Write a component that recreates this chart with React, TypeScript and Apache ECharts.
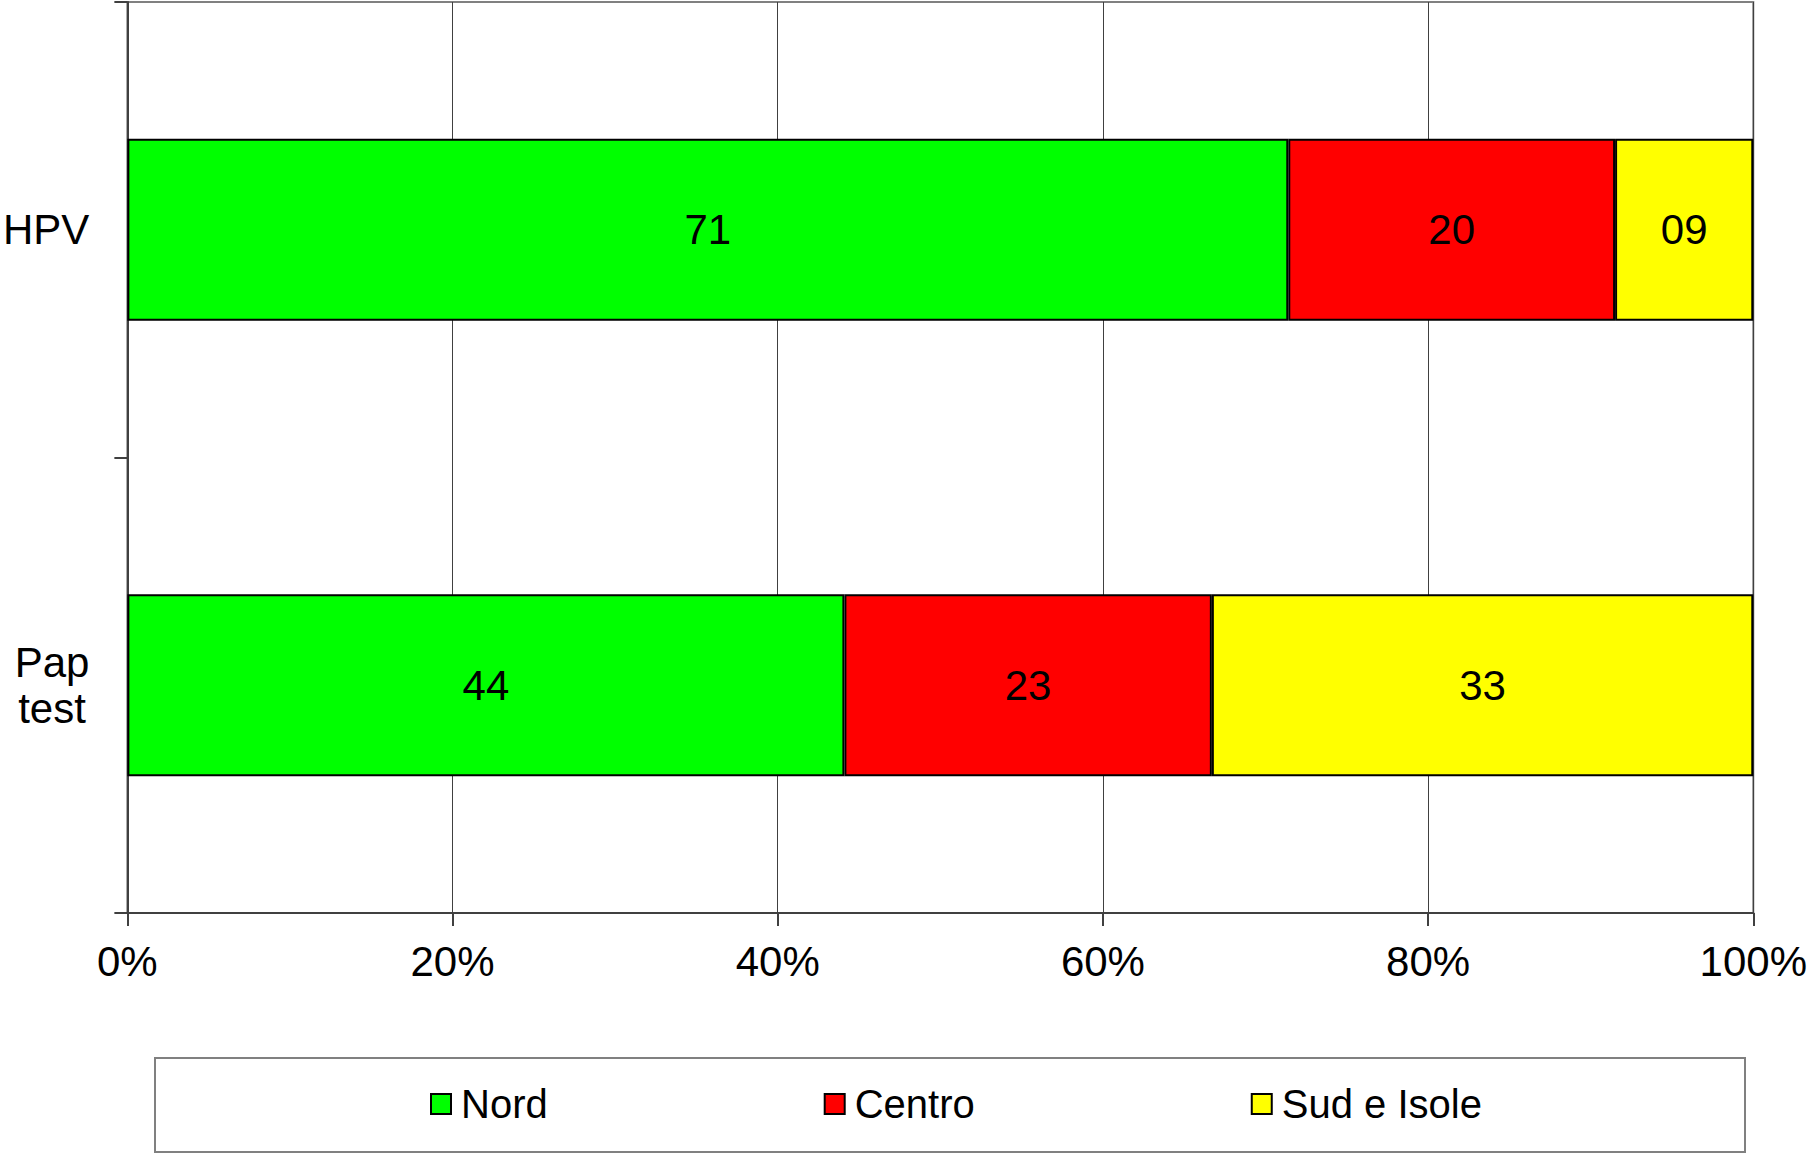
import React, { useEffect, useRef } from "react";
import * as echarts from "echarts";

const categories = ["HPV", "Pap\ntest"];
const seriesNames = ["Nord", "Centro", "Sud e Isole"];
const nordValues = [71.4, 44.1];
const centroValues = [20.1, 22.6];
const sudValues = [8.5, 33.3];
const xTicks = [0, 20, 40, 60, 80, 100];
const colors = ["#00ff00", "#ff0000", "#ffff00"];

const FONT = "Liberation Sans, Arial, sans-serif";

export default function App() {
  const ref = useRef<HTMLDivElement>(null);
  useEffect(() => {
    if (!ref.current) return;
    const chart = echarts.init(ref.current, null, { renderer: "svg" });
    const allValues = [nordValues, centroValues, sudValues];
    const labelFmt = (p: any) => String(Math.round(p.value)).padStart(2, "0");
    chart.setOption({
      animation: false,
      backgroundColor: "#ffffff",
      textStyle: { fontFamily: FONT },
      grid: {
        left: 126,
        right: 56,
        top: 2,
        bottom: 241,
        show: true,
        borderColor: "#808080",
        borderWidth: 2,
        backgroundColor: "transparent",
      },
      xAxis: {
        type: "value",
        min: xTicks[0],
        max: xTicks[xTicks.length - 1],
        interval: xTicks[1] - xTicks[0],
        axisLine: { show: true, lineStyle: { color: "#404040", width: 2 } },
        axisTick: { show: true, length: 13, lineStyle: { color: "#404040", width: 2 } },
        splitLine: { show: true, lineStyle: { color: "#404040", width: 1 } },
        axisLabel: {
          formatter: "{value}%",
          fontSize: 42,
          color: "#000",
          fontFamily: FONT,
          margin: 27,
        },
      },
      yAxis: {
        type: "category",
        data: categories,
        inverse: true,
        axisLine: { show: true, lineStyle: { color: "#404040", width: 2 } },
        axisTick: { show: true, length: 13, lineStyle: { color: "#404040", width: 2 } },
        splitLine: { show: false },
        axisLabel: {
          color: "#000",
          margin: 38,
          align: "right",
          formatter: (v: string) => "{c|" + v.split("\n").join("}\n{c|") + "}",
          rich: {
            c: {
              fontSize: 42,
              fontFamily: FONT,
              color: "#000",
              lineHeight: 46,
              align: "center",
            },
          },
        },
      },
      legend: {
        left: 430,
        top: 1084,
        itemGap: 276,
        itemWidth: 20,
        itemHeight: 20,
        padding: 0,
        icon: "rect",
        data: seriesNames,
        textStyle: { fontSize: 40, color: "#000", fontFamily: FONT, padding: [0, 0, 0, 5] },
      },
      graphic: [
        {
          type: "rect",
          z: -1,
          shape: { x: 155, y: 1058, width: 1590, height: 94 },
          style: { fill: "#ffffff", stroke: "#808080", lineWidth: 2 },
        },
      ],
      series: seriesNames.map((name, i) => ({
        name,
        type: "bar",
        stack: "total",
        barCategoryGap: "60%",
        data: allValues[i],
        itemStyle: { color: colors[i], borderColor: "#000", borderWidth: 2 },
        label: {
          show: true,
          position: "inside",
          formatter: labelFmt,
          fontSize: 42,
          color: "#000",
          fontFamily: FONT,
        },
      })),
    });
    return () => chart.dispose();
  }, []);
  return (
    <div
      ref={ref}
      style={{ position: "absolute", left: 0, top: 0, width: 1810, height: 1154 }}
    />
  );
}
